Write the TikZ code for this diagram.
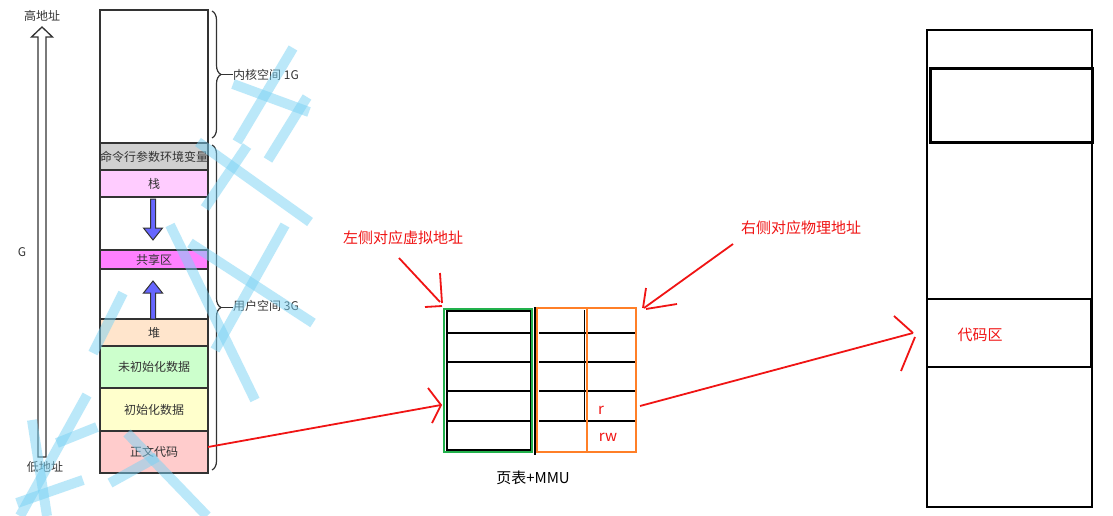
\documentclass[tikz,border=0pt]{standalone}
\usepackage{fontspec}
\setmainfont{Noto Sans CJK SC}
\usetikzlibrary{decorations.pathreplacing}
\definecolor{dk}{RGB}{51,51,51}
\definecolor{cmdgray}{RGB}{208,208,208}
\definecolor{stackpink}{RGB}{255,204,255}
\definecolor{sharedmag}{RGB}{255,128,255}
\definecolor{heapc}{RGB}{255,229,204}
\definecolor{bssc}{RGB}{204,255,204}
\definecolor{datac}{RGB}{255,255,204}
\definecolor{codec}{RGB}{255,204,204}
\definecolor{bluearr}{RGB}{102,102,255}
\definecolor{tgreen}{RGB}{34,177,76}
\definecolor{torange}{RGB}{255,127,39}
\definecolor{pred}{RGB}{240,20,20}
\definecolor{wmblue}{RGB}{120,210,245}
\tikzset{
  seg/.style={draw=dk, line width=1.3pt, inner sep=0pt, outer sep=0pt,
    minimum width=108pt, anchor=north west, text=dk,
    font=\fontsize{12}{13}\selectfont},
  lbl/.style={text=dk, inner sep=0pt, font=\fontsize{12}{13}\selectfont},
  rlbl/.style={text=pred, inner sep=0pt, font=\fontsize{15}{16}\selectfont},
  pen/.style={draw=pred, line width=1.8pt},
  row/.style={draw=black, line width=2pt},
  frame/.style={draw=black, line width=2pt, inner sep=0pt, outer sep=0pt, anchor=north west},
  bracestyle/.style={draw=dk, line width=1.2pt, decorate, decoration={brace, amplitude=9pt}},
  blockarrow/.style={draw=dk, line width=1pt, fill=bluearr},
  wm/.style={draw=wmblue, line width=10pt, opacity=0.5}
}
\begin{document}
\begin{tikzpicture}[x=1pt,y=-1pt]
\useasboundingbox (0,0) rectangle (1113,516);
\fill[white] (0,0) rectangle (1113,516);

% ---------- left: virtual address space ----------
\node[seg, minimum height=133pt] (kernel) at (100,10) {};
\node[seg, minimum height=27pt, fill=cmdgray] (cmd) at (100,143) {命令行参数环境变量};
\node[seg, minimum height=27pt, fill=stackpink] (stack) at (100,170) {栈};
\node[seg, minimum height=53pt] (gapa) at (100,197) {};
\node[seg, minimum height=19pt, fill=sharedmag] (shared) at (100,250) {共享区};
\node[seg, minimum height=50pt] (gapb) at (100,269) {};
\node[seg, minimum height=27pt, fill=heapc] (heap) at (100,319) {堆};
\node[seg, minimum height=42pt, fill=bssc] (bss) at (100,346) {未初始化数据};
\node[seg, minimum height=43pt, fill=datac] (data) at (100,388) {初始化数据};
\node[seg, minimum height=42pt, fill=codec] (code) at (100,431) {正文代码};

% blue growth arrows
\draw[blockarrow] (150.5,199) -- (155.5,199) -- (155.5,228) -- (162.5,228) -- (153,240)
  -- (143.5,228) -- (150.5,228) -- cycle;
\draw[blockarrow] (153,281) -- (162.5,293) -- (155.5,293) -- (155.5,319) -- (150.5,319)
  -- (150.5,293) -- (143.5,293) -- cycle;

% braces
\draw[bracestyle] (212,11) -- (212,138);
\draw[bracestyle] (212,145) -- (212,470);
\draw[dk, line width=1pt] (221,75) -- (233,75);
\draw[dk, line width=1pt] (221,307) -- (233,307);
\node[lbl, anchor=west] (klabel) at (233,75) {内核空间 1G};
\node[lbl, anchor=west] (ulabel) at (233,306) {用户空间 3G};

% hollow address arrow
\draw[dk, line width=1.3pt, fill=white] (38,457) -- (46,457) -- (46,37) -- (52.5,37) -- (42,27)
  -- (31.5,37) -- (38,37) -- cycle;
\node[lbl] (hi) at (42,16) {高地址};
\node[lbl] (lo) at (45,467) {低地址};
\node[lbl] (gg) at (22,252) {G};

% ---------- middle: page table ----------
\draw[black, line width=1.5pt] (447,311) rectangle (531,450);
\node[frame, draw=tgreen, line width=2.5pt, minimum width=88pt, minimum height=143pt] (vt) at (444,309) {};
\node[frame, draw=torange, line width=2pt, minimum width=99pt, minimum height=144pt] (pt) at (537,308) {};
\foreach \yy in {333,362,391,421} {
  \draw[row] (447,\yy) -- (531,\yy);
  \draw[row] (539,\yy) -- (635,\yy);
}
\draw[black, line width=2.5pt] (535,307) -- (535,455);
\draw[black, line width=1.5pt] (584.5,310) -- (584.5,420);
\draw[torange, line width=2pt] (586.5,309) -- (586.5,452);
\node[rlbl] (rr) at (601,410) {r};
\node[rlbl] (rw) at (608,437) {rw};
\node[inner sep=0pt, text=black, font=\fontsize{15}{16}\selectfont] (mmu) at (533,478) {页表+MMU};

\node[rlbl] (vlabel) at (403,238) {左侧对应虚拟地址};
\node[rlbl] (plabel) at (801,228) {右侧对应物理地址};

% ---------- right: physical memory ----------
\node[frame, minimum width=165pt, minimum height=477pt] (phys) at (927,30) {};
\node[frame, line width=3pt, minimum width=162pt, minimum height=73pt] (ktop) at (930,69) {};
\node[frame, line width=2.5pt, minimum width=164pt, minimum height=68pt] (codearea) at (927,299) {};
\node[rlbl] (codelabel) at (980,335) {代码区};

% ---------- red hand-drawn arrows ----------
\coordinate (t1) at (441,405);
\draw[pen] ([yshift=5pt]code.east) -- (t1);
\draw[pen] (428,388) -- (t1) -- (432,423);

\coordinate (t2) at (913,333);
\draw[pen] (640,406) -- (t2);
\draw[pen] (894,316) -- (t2);
\draw[pen] (915,337) -- (901,371);

\coordinate (t3) at (440,302);
\draw[pen] (399,258) -- (t3);
\draw[pen] (440,273) -- (442,303);
\draw[pen] (425,307) -- (442,306);

\coordinate (t4) at (644,308);
\draw[pen] (733,244) -- (t4);
\draw[pen] (646,288) -- (643,308);
\draw[pen] (677,304) -- (646,309);

% ---------- watermark strokes ----------
\draw[wm] (293,48) -- (237,142);
\draw[wm] (233,84) -- (309,112);
\draw[wm] (198,142) -- (310,222);
\draw[wm] (307,97) -- (268,160);
\draw[wm] (247,146) -- (205,208);
\draw[wm] (170,225) -- (255,400);
\draw[wm] (190,243) -- (313,323);
\draw[wm] (285,225) -- (215,350);
\draw[wm] (123,293) -- (93,353);
\draw[wm] (87,395) -- (20,516);
\draw[wm] (32,420) -- (47,516);
\draw[wm] (57,443) -- (97,427);
\draw[wm] (127,433) -- (207,516);
\draw[wm] (110,483) -- (157,457);
\draw[wm] (17,503) -- (83,480);
\end{tikzpicture}
\end{document}
